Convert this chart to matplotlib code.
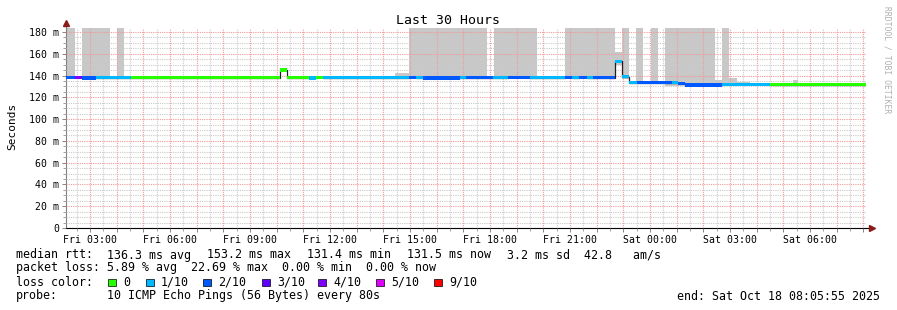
import numpy as np
import pandas as pd
import matplotlib
matplotlib.use('Agg')
import matplotlib.pyplot as plt
import matplotlib.dates as mdates
from matplotlib.patches import Rectangle
from matplotlib.ticker import MultipleLocator, FuncFormatter

# fenetre de 30 heures
t_start = '2025-10-17 02:05:55'
t_end = '2025-10-18 08:05:55'

# segments de la mediane (heures depuis le debut)
seg_edges_h = [0.00, 0.34, 0.60, 1.12, 1.65, 1.91, 2.44, 8.02, 8.29, 9.11, 9.37, 9.64,
               12.86, 13.12, 13.39, 14.77, 15.00, 16.01, 16.57, 17.40, 18.71, 18.97,
               19.24, 19.54, 19.76, 20.59, 20.85, 21.11, 21.41, 22.72, 22.95, 23.21,
               24.60, 26.40, 30.00]
median_ms = [138.5, 138.2, 137.8, 138.0, 138.0, 138.0, 138.0, 145.0, 138.0, 137.8, 138.2,
             138.0, 138.3, 138.0, 137.8, 138.0, 138.0, 138.0, 138.5, 138.0, 138.3, 138.0,
             138.2, 138.0, 138.0, 153.2, 138.8, 133.5, 133.5, 133.5, 133.0, 131.4, 131.8,
             131.6]
loss_tenths = [2, 4, 2, 1, 1, 1, 0, 0, 0, 1, 0, 1, 2, 1, 2, 1, 2, 1, 2, 1, 2, 1, 2, 1, 2,
               1, 1, 1, 2, 1, 2, 2, 1, 0]

# fumee (dispersion des pings)
smoke_start_h = [0.00, 0.60, 1.91, 8.02, 12.34, 12.86, 16.05, 18.71, 20.59, 20.85, 21.38,
                 21.94, 22.46, 24.34, 24.60, 24.86, 25.16, 27.26]
smoke_end_h = [0.34, 1.65, 2.18, 8.29, 12.86, 15.79, 17.66, 20.59, 20.85, 21.11, 21.64,
               22.20, 24.34, 24.60, 24.86, 25.16, 25.65, 27.45]
smoke_low_ms = [136.5, 136.5, 136.5, 143.0, 136.5, 136.5, 136.5, 136.5, 150.0, 136.5, 132.0,
                132.0, 130.0, 130.0, 130.0, 130.0, 130.0, 130.0]
smoke_high_ms = [200, 200, 200, 146.5, 142.0, 200, 200, 200, 162.0, 200, 200,
                 200, 200, 135.5, 200, 137.3, 134.5, 135.5]

# couleurs de perte
loss_levels = [0, 1, 2, 3, 4, 5, 9]
loss_labels = ['0', '1/10', '2/10', '3/10', '4/10', '5/10', '9/10']
loss_colors = ['#26ff00', '#00b8ff', '#0059ff', '#5e00ff', '#7e00ff', '#dd00ff', '#ff0000']
color_of = dict(zip(loss_levels, loss_colors))

# legende
rtt_items = ['136.3 ms avg', '153.2 ms max', '131.4 ms min', '131.5 ms now', '3.2 ms sd  42.8   am/s']
loss_items = '5.89 % avg  22.69 % max  0.00 % min  0.00 % now'
probe_text = '10 ICMP Echo Pings (56 Bytes) every 80s'
end_text = 'end: Sat Oct 18 08:05:55 2025'

mono = 'DejaVu Sans Mono'
W, H = 897, 310

fig = plt.figure(figsize=(W / 100, H / 100), dpi=100)
ax = fig.add_axes([66 / W, 1 - 228 / H, 800 / W, (228 - 27.6) / H])

t0 = mdates.date2num(pd.Timestamp(t_start))
t1 = mdates.date2num(pd.Timestamp(t_end))
edges = t0 + np.array(seg_edges_h) / 24.0
med = np.array(median_ms)

# fumee grise
s0 = t0 + np.array(smoke_start_h) / 24.0
s1 = t0 + np.array(smoke_end_h) / 24.0
lo = np.array(smoke_low_ms)
hi = np.array(smoke_high_ms)
ax.bar(s0, hi - lo, width=s1 - s0, bottom=lo, align='edge', color='#c8c8c8', lw=0, zorder=1)

# ligne mediane + bande coloree
ax.stairs(med, edges, baseline=None, color='#202020', lw=0.9, zorder=3)
cols = [color_of[l] for l in loss_tenths]
ax.bar(edges[:-1], 3.0, width=np.diff(edges), bottom=med - 1.5, align='edge',
       color=cols, lw=0, zorder=3.5)

ax.set_xlim(t0, t1)
ax.set_ylim(0, 184)
ax.xaxis_date()

ax.xaxis.set_major_locator(mdates.HourLocator(byhour=range(24)))
ax.xaxis.set_minor_locator(mdates.MinuteLocator(byminute=[30]))


def fmt_time(v, pos):
    d = mdates.num2date(v)
    return d.strftime('%a %H:%M') if d.hour % 3 == 0 else ''


ax.xaxis.set_major_formatter(FuncFormatter(fmt_time))
ax.yaxis.set_major_locator(MultipleLocator(20))
ax.yaxis.set_minor_locator(MultipleLocator(5))
ax.yaxis.set_major_formatter(FuncFormatter(lambda v, p: '0' if v == 0 else f'{v:.0f} m'))

ax.set_axisbelow(False)
ax.grid(which='major', color='#f29a9a', lw=0.8, ls=(0, (1, 1)), zorder=2.5)
ax.grid(which='minor', color='#cbcbcb', lw=0.8, ls=(0, (1, 1)), zorder=2.4)

ax.tick_params(which='major', length=3, width=0.6, color='#707070', pad=2, labelsize=7.1)
ax.tick_params(which='minor', length=2, width=0.6, color='#909090')
for lab in ax.get_xticklabels() + ax.get_yticklabels():
    lab.set_fontfamily(mono)

for s in ['top', 'right']:
    ax.spines[s].set_visible(False)
ax.spines['left'].set_color('#808080')
ax.spines['bottom'].set_color('black')

# fleches des axes
ax.plot([0, 0], [1, 1.02], transform=ax.transAxes, color='#808080', lw=0.8, clip_on=False)
ax.plot([1, 1.007], [0, 0], transform=ax.transAxes, color='black', lw=0.8, clip_on=False)
ax.plot([0], [1.025], marker='^', ms=4, color='#8b1a1a', transform=ax.transAxes, clip_on=False)
ax.plot([1.007], [0], marker='>', ms=4, color='#8b1a1a', transform=ax.transAxes, clip_on=False)

# textes
fig.text(447.5 / W, 1 - 20 / H, 'Last 30 Hours', ha='center', va='center',
         fontsize=9.5, family=mono)
fig.text(12 / W, 1 - 126 / H, 'Seconds', rotation=90, ha='center', va='center',
         fontsize=8, family=mono)
fig.text(887 / W, 1 - 60 / H, 'RRDTOOL / TOBI OETIKER', rotation=270, ha='center',
         va='center', fontsize=5.8, family=mono, color='#b0b0b0')

lx = 16 / W
fs = 8.35
fig.text(lx, 1 - 255 / H, 'median rtt:', va='center', fontsize=fs, family=mono)
for i, item in enumerate(rtt_items):
    fig.text((107 + 100 * i) / W, 1 - 255 / H, item, va='center', fontsize=fs, family=mono)
fig.text(lx, 1 - 268 / H, 'packet loss:', va='center', fontsize=fs, family=mono)
fig.text(107 / W, 1 - 268 / H, loss_items, va='center', fontsize=fs, family=mono)
fig.text(lx, 1 - 282 / H, 'loss color:', va='center', fontsize=fs, family=mono)
box_x = [108, 146, 203, 262, 318, 376, 434]
for bx, lab, c in zip(box_x, loss_labels, loss_colors):
    fig.patches.append(Rectangle((bx / W, 1 - 286 / H), 7.5 / W, 7.5 / H, facecolor=c,
                                 edgecolor='black', lw=0.5, transform=fig.transFigure))
    fig.text((bx + 15) / W, 1 - 282 / H, lab, va='center', fontsize=fs, family=mono)
fig.text(lx, 1 - 296 / H, 'probe:', va='center', fontsize=fs, family=mono)
fig.text(107 / W, 1 - 296 / H, probe_text, va='center', fontsize=fs, family=mono)
fig.text(880 / W, 1 - 296 / H, end_text, ha='right', va='center', fontsize=fs, family=mono)

fig.savefig('out.png', dpi=100)
